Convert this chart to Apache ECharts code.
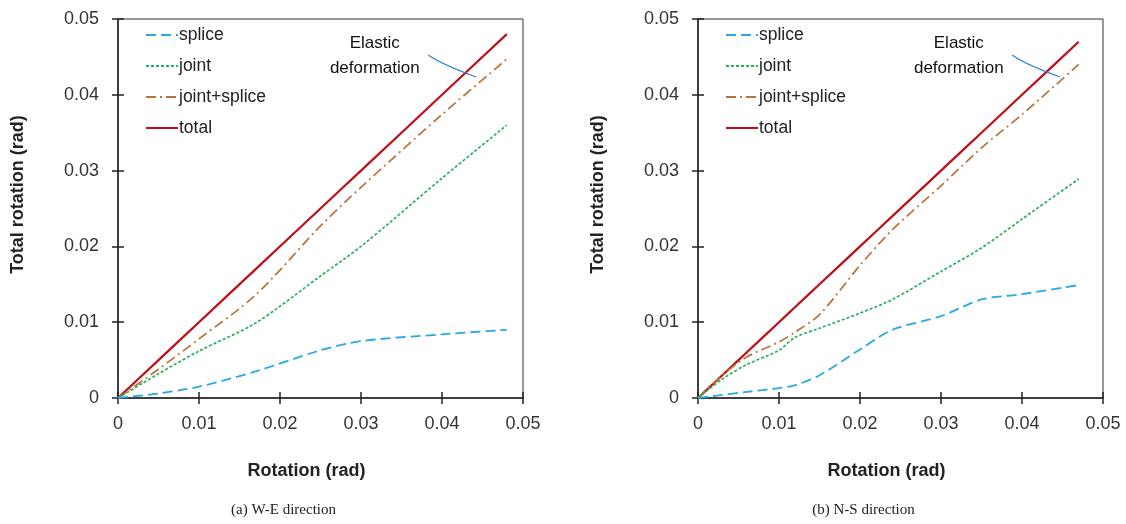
<!DOCTYPE html>
<html>
<head>
<meta charset="utf-8">
<script src="https://cdn.jsdelivr.net/npm/echarts@6/dist/echarts.min.js"></script>
<style>
  html, body { margin: 0; padding: 0; background: #fff; }
  #chart { width: 1126px; height: 524px; }
</style>
</head>
<body>
<div id="chart"></div>
<script>
// W-E direction
const rotWE = [0, 0.005, 0.01, 0.017, 0.025, 0.03, 0.04, 0.048]
const spliceWE = [0, 0.0006, 0.0015, 0.0035, 0.0063, 0.0075, 0.0084, 0.009]
const jointWE = [0, 0.0032, 0.0062, 0.0099, 0.0161, 0.020, 0.029, 0.036]
const jointSpliceWE = [0, 0.0038, 0.0078, 0.0136, 0.0227, 0.0278, 0.0374, 0.0447]
const totalWE = [0, 0.005, 0.01, 0.017, 0.025, 0.03, 0.04, 0.048]

// N-S direction
const rotNS = [0, 0.003, 0.006, 0.01, 0.012, 0.015, 0.02, 0.024, 0.03, 0.035, 0.04, 0.047]
const spliceNS = [0, 0.0004, 0.0008, 0.0013, 0.0017, 0.003, 0.0064, 0.009, 0.0108, 0.013, 0.0137, 0.0149]
const jointNS = [0, 0.0025, 0.0044, 0.0063, 0.008, 0.0092, 0.0112, 0.013, 0.0167, 0.0198, 0.0236, 0.0289]
const jointSpliceNS = [0, 0.003, 0.0054, 0.0074, 0.0087, 0.011, 0.0175, 0.0222, 0.028, 0.033, 0.0374, 0.044]
const totalNS = [0, 0.003, 0.006, 0.01, 0.012, 0.015, 0.02, 0.024, 0.03, 0.035, 0.04, 0.047]

const seriesNames = ['splice', 'joint', 'joint+splice', 'total']
const captions = ['(a) W-E direction', '(b) N-S direction']

// annotation "Elastic deformation" in data coords: text centre, arc start / control / end
const annoWE = { text: [0.0317, 0.0452], arc: [[0.0383, 0.04525], [0.0398, 0.0441], [0.0442, 0.04235]] }
const annoNS = { text: [0.0322, 0.0452], arc: [[0.0388, 0.04525], [0.0402, 0.0441], [0.0447, 0.04235]] }

const font = 'Liberation Sans'
const styles = {
    'splice': { color: '#27a9e1', width: 1.8, type: [10, 5] },
    'joint': { color: '#25b05a', width: 1.7, type: [3, 2] },
    'joint+splice': { color: '#b8733a', width: 1.7, type: [10, 4, 2, 4] },
    'total': { color: '#c00d17', width: 2.2, type: 'solid' }
}

const zip = (xs, ys) => xs.map((x, i) => [x, ys[i]])

const chart = echarts.init(document.getElementById('chart'))

const grids = [
    { left: 118, top: 19, width: 405, height: 379 },
    { left: 698, top: 19, width: 405, height: 379 }
]

const tickStyle = { color: '#222', width: 1.5 }
const xAxes = []
const yAxes = []
grids.forEach((g, gi) => {
    // main axes (outside ticks + labels)
    xAxes.push({
        type: 'value', gridIndex: gi, position: 'bottom', min: 0, max: 0.05, interval: 0.01,
        name: 'Rotation (rad)', nameLocation: 'middle', nameGap: 64,
        nameTextStyle: { fontFamily: font, fontSize: 18, fontWeight: 'bold', color: '#222', padding: [0, 28, 0, 0] },
        axisLine: { lineStyle: { color: '#222', width: 1.5 } },
        axisTick: { inside: false, length: 6, lineStyle: tickStyle },
        axisLabel: { fontFamily: font, fontSize: 18, color: '#333', margin: 17,
            formatter: v => String(+v.toFixed(2)) },
        splitLine: { show: false }
    })
    // inside half of the crossing ticks
    xAxes.push({
        type: 'value', gridIndex: gi, position: 'bottom', min: 0, max: 0.05, interval: 0.01,
        axisLine: { show: false },
        axisTick: { inside: true, length: 6, lineStyle: tickStyle },
        axisLabel: { show: false }, splitLine: { show: false }
    })
    yAxes.push({
        type: 'value', gridIndex: gi, position: 'left', min: 0, max: 0.05, interval: 0.01,
        name: 'Total rotation (rad)', nameLocation: 'middle', nameGap: 91,
        nameTextStyle: { fontFamily: font, fontSize: 18, fontWeight: 'bold', color: '#222', padding: [0, 0, 0, 28] },
        axisLine: { lineStyle: { color: '#222', width: 1.5 } },
        axisTick: { inside: false, length: 6, lineStyle: tickStyle },
        axisLabel: { fontFamily: font, fontSize: 18, color: '#333', margin: 19,
            formatter: v => String(+v.toFixed(2)) },
        splitLine: { show: false }
    })
    yAxes.push({
        type: 'value', gridIndex: gi, position: 'left', min: 0, max: 0.05, interval: 0.01,
        axisLine: { show: false },
        axisTick: { inside: true, length: 6, lineStyle: tickStyle },
        axisLabel: { show: false }, splitLine: { show: false }
    })
})

const dataSets = [
    [spliceWE, jointWE, jointSpliceWE, totalWE],
    [spliceNS, jointNS, jointSpliceNS, totalNS]
]
const rots = [rotWE, rotNS]

const series = []
dataSets.forEach((sets, gi) => {
    sets.forEach((ys, si) => {
        const name = seriesNames[si]
        const st = styles[name]
        series.push({
            name: name, type: 'line', xAxisIndex: gi * 2, yAxisIndex: gi * 2,
            data: zip(rots[gi], ys), smooth: 0.3, symbol: 'none', silent: true,
            z: 10 - si,
            itemStyle: { color: st.color },
            lineStyle: { color: st.color, width: st.width, type: st.type }
        })
    })
})

const legendBase = {
    orient: 'vertical', top: 21, itemWidth: 32, itemHeight: 14, itemGap: 13,
    selectedMode: false, data: seriesNames,
    itemStyle: { color: 'transparent', borderColor: 'transparent', borderWidth: 0 },
    textStyle: { fontFamily: font, fontSize: 17.5, color: '#222', padding: [0, 0, 0, -4] }
}

chart.setOption({
    animation: false,
    backgroundColor: '#fff',
    grid: grids.map(g => Object.assign({ show: true, borderColor: '#333', borderWidth: 1 }, g)),
    xAxis: xAxes,
    yAxis: yAxes,
    legend: [
        Object.assign({ left: 140 }, legendBase),
        Object.assign({ left: 720 }, legendBase)
    ],
    series: series
})

// annotations and captions, placed from data coords
const graphics = []
;[annoWE, annoNS].forEach((a, gi) => {
    const toPx = p => chart.convertToPixel({ gridIndex: gi }, p)
    const t = toPx(a.text)
    graphics.push({
        type: 'text', x: t[0], y: t[1], z: 20,
        style: { text: 'Elastic\ndeformation', fill: '#111', font: '17px ' + font,
            align: 'center', verticalAlign: 'middle', lineHeight: 25 }
    })
    const p1 = toPx(a.arc[0]), c = toPx(a.arc[1]), p2 = toPx(a.arc[2])
    graphics.push({
        type: 'bezierCurve', z: 20,
        shape: { x1: p1[0], y1: p1[1], cpx1: c[0], cpy1: c[1], x2: p2[0], y2: p2[1] },
        style: { stroke: '#2a7fd6', lineWidth: 1.2, fill: null }
    })
    const g = grids[gi]
    graphics.push({
        type: 'text', x: g.left + g.width / 2 - 37, y: 510, z: 20,
        style: { text: captions[gi], fill: '#222', font: '15px "Liberation Serif"',
            align: 'center', verticalAlign: 'middle' }
    })
})
chart.setOption({ graphic: { elements: graphics } })
</script>
</body>
</html>
